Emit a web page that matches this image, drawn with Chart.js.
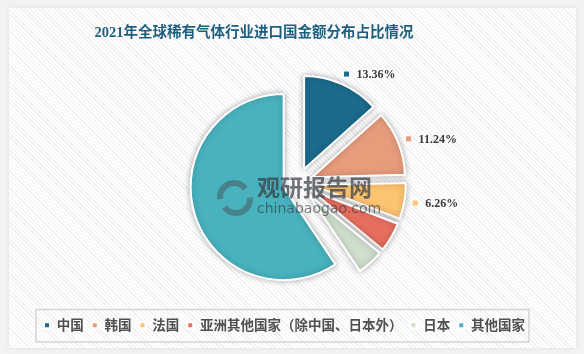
<!DOCTYPE html>
<html>
<head>
<meta charset="utf-8">
<script src="https://cdn.jsdelivr.net/npm/chart.js@4"></script>
<style>
  html, body { margin: 0; padding: 0; background: #f3f3f3; }
  #wrap { position: relative; width: 584px; height: 354px; overflow: hidden; }
  #card {
    position: absolute; left: 9px; top: 8px; width: 567px; height: 340px;
    background-color: #fff;
    background-image: repeating-linear-gradient(45deg, #fff 0px, #fff 2px, #efefef 2px, #efefef 3px);
    box-shadow: 0 0 6px rgba(0,0,0,0.08);
  }
  #chart { position: absolute; left: 0; top: 0; }
</style>
</head>
<body>
<div id="wrap">
  <div id="card"></div>
  <canvas id="chart" width="584" height="354"></canvas>
</div>
<script>
const titleText = '2021年全球稀有气体行业进口国金额分布占比情况'
const countries = ['中国', '韩国', '法国', '亚洲其他国家（除中国、日本外）', '日本', '其他国家']
const shares = [13.36, 11.24, 6.26, 5.12, 4.62, 59.40]
const labelled = [0, 1, 2]
const colors = ['#1b6b8c', '#e79c7c', '#fdc470', '#e76f5f', '#cfdfcc', '#49b2bf']

const explode = 15

// draws each slice pushed out from the centre, with a soft shadow
const explodePlugin = {
  id: 'explode',
  beforeDatasetDraw(chart, args) {
    const ctx = chart.ctx
    args.meta.data.forEach(arc => {
      const mid = (arc.startAngle + arc.endAngle) / 2
      ctx.save()
      ctx.translate(Math.cos(mid) * explode, Math.sin(mid) * explode)
      ctx.shadowColor = 'rgba(0,0,0,0.3)'
      ctx.shadowBlur = 6
      arc.draw(ctx, chart.chartArea)
      ctx.restore()
    })
    return false
  },
  afterDatasetsDraw(chart) {
    const ctx = chart.ctx
    const meta = chart.getDatasetMeta(0)

    // percentage labels
    labelled.forEach(i => {
      const arc = meta.data[i]
      const mid = (arc.startAngle + arc.endAngle) / 2
      const r = arc.outerRadius + 26
      const x = arc.x + Math.cos(mid) * r
      const y = arc.y + Math.sin(mid) * r
      ctx.save()
      ctx.fillStyle = colors[i]
      ctx.fillRect(x - 2.5, y - 2.5, 5, 5)
      ctx.fillStyle = '#3a3a3a'
      ctx.font = 'bold 12px "Liberation Serif", serif'
      ctx.textBaseline = 'middle'
      ctx.fillText(shares[i].toFixed(2) + '%', x + 10, y + 1)
      ctx.restore()
    })

    // watermark
    ctx.save()
    ctx.strokeStyle = 'rgba(70,80,85,0.5)'
    ctx.lineWidth = 6
    ctx.beginPath()
    ctx.arc(234, 197, 14, Math.PI * 0.95, Math.PI * 1.8)
    ctx.stroke()
    ctx.beginPath()
    ctx.arc(236, 199, 14, -0.1, Math.PI * 0.8)
    ctx.stroke()
    ctx.fillStyle = 'rgba(55,60,65,0.72)'
    ctx.font = 'bold 23px "Noto Sans CJK SC", sans-serif'
    ctx.textBaseline = 'middle'
    ctx.fillText('观研报告网', 257, 187)
    ctx.fillStyle = 'rgba(55,60,65,0.65)'
    ctx.font = '14px "DejaVu Sans", sans-serif'
    ctx.fillText('chinabaogao.com', 257, 209)
    ctx.restore()
  },
  afterDraw(chart) {
    const ctx = chart.ctx
    const lg = chart.legend
    const boxes = lg.legendHitBoxes
    const last = boxes[boxes.length - 1]
    ctx.save()
    ctx.strokeStyle = '#d4d4d4'
    ctx.lineWidth = 1.5
    ctx.strokeRect(lg.left, lg.top - 1, last.left + last.width + 4 - lg.left, lg.bottom - lg.top + 1)
    // title
    ctx.fillStyle = '#1d5f7f'
    ctx.font = 'bold 14.5px "Liberation Serif", "Noto Sans CJK SC", serif'
    ctx.textAlign = 'center'
    ctx.textBaseline = 'middle'
    ctx.fillText(titleText, 254, 33)
    ctx.restore()
  }
}

new Chart(document.getElementById('chart'), {
  type: 'pie',
  data: {
    labels: countries,
    datasets: [{
      data: shares,
      backgroundColor: colors,
      borderColor: '#ffffff',
      borderWidth: 2,
      radius: 93,
    }],
  },
  options: {
    responsive: false,
    animation: false,
    layout: { padding: { left: 36, right: 24, top: 55, bottom: 12 } },
    plugins: {
      legend: {
        position: 'bottom',
        align: 'start',
        labels: {
          boxWidth: 6,
          boxHeight: 6,
          padding: 8,
          color: '#505050',
          font: { size: 13.5, weight: 'bold', family: '"Noto Sans CJK SC", sans-serif' },
        },
      },
      tooltip: { enabled: false },
    },
  },
  plugins: [explodePlugin],
})
</script>
</body>
</html>
